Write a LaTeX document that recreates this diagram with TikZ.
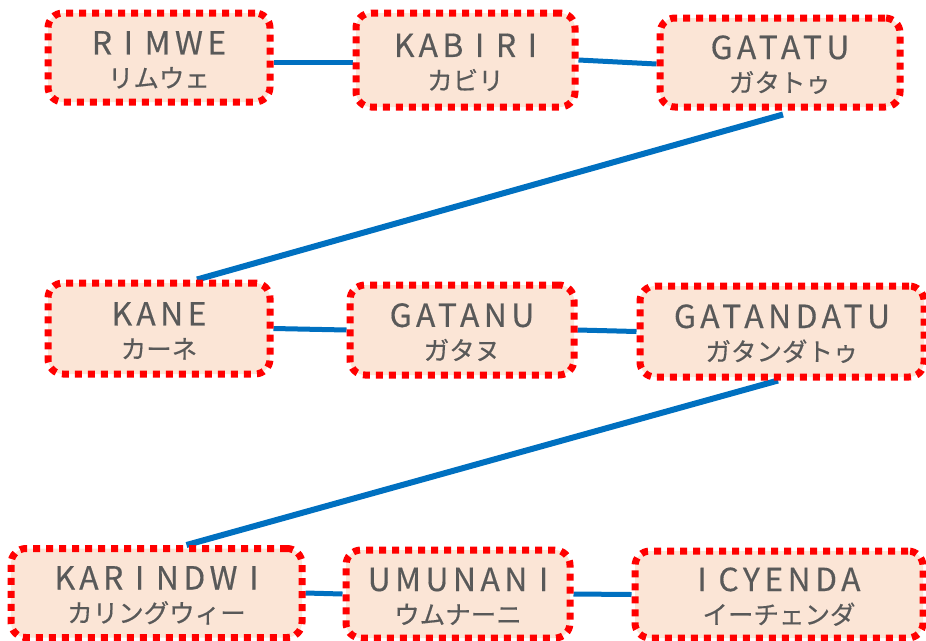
\documentclass[tikz,border=0pt]{standalone}
\usepackage{fontspec}
\usepackage{xcolor}
\setmainfont[FakeBold=0.4]{Noto Sans CJK JP}
\newfontfamily\wide[LetterSpace=14,Scale=1.25,FakeBold=0.4]{Noto Sans CJK JP}
\usetikzlibrary{backgrounds}
\definecolor{boxfill}{HTML}{FBE5D6}
\definecolor{dotred}{HTML}{FF0000}
\definecolor{textgray}{HTML}{595959}
\definecolor{linkblue}{HTML}{0070C0}

\begin{document}
\begin{tikzpicture}[x=1pt,y=-1pt,
    numbox/.style={rectangle,rounded corners=15pt,draw=dotred,line width=7pt,
      dash pattern=on 7pt off 6pt,fill=boxfill,text=textgray,align=center,
      inner sep=0pt,font=\fontsize{25.5}{33}\selectfont,text height=61pt},
    link/.style={draw=linkblue,line width=5pt}]
    \useasboundingbox (0,0) rectangle (926,640);
    \node[numbox,minimum width=222pt,minimum height=89pt] (rimwe) at (159,57.5) {{\wide R I MWE}\\リムウェ};
    \node[numbox,minimum width=219pt,minimum height=94pt] (kabiri) at (465.5,60) {{\wide KAB I R I}\\カビリ};
    \node[numbox,minimum width=240pt,minimum height=89pt] (gatatu) at (780,62.5) {{\wide GATATU}\\ガタトゥ};
    \node[numbox,minimum width=222pt,minimum height=91pt] (kane) at (159,328.5) {{\wide KANE}\\カーネ};
    \node[numbox,minimum width=224pt,minimum height=90pt] (gatanu) at (462,330) {{\wide GATANU}\\ガタヌ};
    \node[numbox,minimum width=284pt,minimum height=91pt] (gatandatu) at (782,331.5) {{\wide GATANDATU}\\ガタンダトゥ};
    \node[numbox,minimum width=291pt,minimum height=89pt] (karindwi) at (156.5,593) {{\wide KAR I NDW I}\\カリングウィー};
    \node[numbox,minimum width=224pt,minimum height=88pt] (umunani) at (458,594) {{\wide UMUNAN I}\\ウムナーニ};
    \node[numbox,minimum width=288pt,minimum height=87pt] (icyenda) at (779,594.5) {{\wide I CYENDA}\\イーチェンダ};
    \begin{pgfonlayer}{background}
      \draw[link] ([yshift=-4.5pt]rimwe.east) -- ([yshift=-2pt]kabiri.west);
      \draw[link] (kabiri.east) -- ([yshift=-1.5pt]gatatu.west);
      \draw[link,line width=6pt] ([xshift=3pt,yshift=-4pt]gatatu.south) -- ([xshift=38pt]kane.north);
      \draw[link] (kane.east) -- (gatanu.west);
      \draw[link] (gatanu.east) -- (gatandatu.west);
      \draw[link,line width=6pt] ([xshift=-4pt]gatandatu.south) -- ([xshift=30pt]karindwi.north);
      \draw[link] (karindwi.east) -- (umunani.west);
      \draw[link] (umunani.east) -- (icyenda.west);
    \end{pgfonlayer}
\end{tikzpicture}
\end{document}
